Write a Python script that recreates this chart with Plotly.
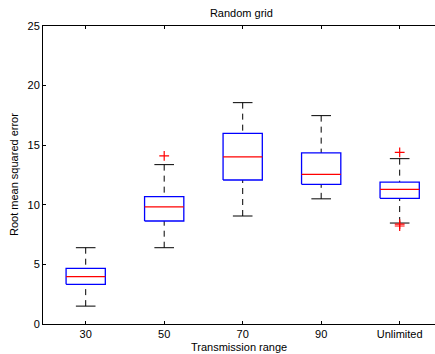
import plotly.graph_objects as go

# ---- data ----
categories = ["30", "50", "70", "90", "Unlimited"]
lower_whisker = [1.50, 6.40, 9.06, 10.50, 8.47]
q1 = [3.33, 8.64, 12.08, 11.72, 10.54]
median = [3.97, 9.82, 14.02, 12.56, 11.30]
q3 = [4.67, 10.68, 16.00, 14.35, 11.91]
upper_whisker = [6.40, 13.37, 18.57, 17.48, 13.87]
outlier_cat = ["50", "Unlimited", "Unlimited", "Unlimited"]
outlier_val = [14.10, 14.40, 8.38, 8.22]

y_ticks = [0, 5, 10, 15, 20, 25]

BOX_W = 0.5
CAP_W = 0.25
FONT = "Liberation Sans, Arial, Helvetica, sans-serif"

pos = {c: i + 1 for i, c in enumerate(categories)}

box_x, box_y = [], []
med_x, med_y = [], []
wh_x, wh_y = [], []
cap_x, cap_y = [], []
for i, c in enumerate(categories):
    p = pos[c]
    a, b = p - BOX_W / 2, p + BOX_W / 2
    box_x += [a, b, b, a, a, None]
    box_y += [q1[i], q1[i], q3[i], q3[i], q1[i], None]
    med_x += [a, b, None]
    med_y += [median[i], median[i], None]
    wh_x += [p, p, None, p, p, None]
    wh_y += [upper_whisker[i], q3[i], None, lower_whisker[i], q1[i], None]
    ca, cb = p - CAP_W / 2, p + CAP_W / 2
    cap_x += [ca, cb, None, ca, cb, None]
    cap_y += [upper_whisker[i], upper_whisker[i], None,
              lower_whisker[i], lower_whisker[i], None]

fig = go.Figure()
fig.add_trace(go.Scatter(x=wh_x, y=wh_y, mode="lines",
                         line=dict(color="black", width=1, dash="6px,5px"),
                         hoverinfo="skip", showlegend=False))
fig.add_trace(go.Scatter(x=cap_x, y=cap_y, mode="lines",
                         line=dict(color="black", width=1),
                         hoverinfo="skip", showlegend=False))
fig.add_trace(go.Scatter(x=box_x, y=box_y, mode="lines",
                         line=dict(color="#0000ff", width=1.3),
                         hoverinfo="skip", showlegend=False))
fig.add_trace(go.Scatter(x=med_x, y=med_y, mode="lines",
                         line=dict(color="#ff0000", width=1.3),
                         hoverinfo="skip", showlegend=False))
fig.add_trace(go.Scatter(x=[pos[c] for c in outlier_cat], y=outlier_val,
                         mode="markers",
                         marker=dict(symbol="cross-thin-open", size=7,
                                     color="#ff0000",
                                     line=dict(color="#ff0000", width=1.2)),
                         hoverinfo="skip", showlegend=False))

fig.update_layout(
    width=435, height=354,
    margin=dict(l=43, r=0, t=26, b=30),
    paper_bgcolor="white", plot_bgcolor="white",
    font=dict(family=FONT, size=11, color="black"),
    title=dict(text="Random grid", x=0.555, xanchor="center",
               y=1 - 13 / 354, yanchor="middle", font=dict(size=11)),
    showlegend=False,
)
fig.update_xaxes(
    range=[0.456, 5.45],
    tickmode="array", tickvals=[pos[c] for c in categories], ticktext=categories,
    ticks="inside", ticklen=3, tickcolor="black",
    showline=True, linecolor="black", linewidth=1, mirror="ticks",
    showgrid=False, zeroline=False,
)
fig.update_yaxes(
    range=[0, 25], tickmode="array", tickvals=y_ticks,
    ticks="inside", ticklen=3, tickcolor="black",
    showline=True, linecolor="black", linewidth=1, mirror=False,
    showgrid=False, zeroline=False,
)
fig.add_annotation(text="Transmission range", xref="paper", yref="paper",
                   x=0.5, y=-(346.5 - 324) / 298, xanchor="center", yanchor="middle",
                   showarrow=False, font=dict(size=11))
fig.add_annotation(text="Root mean squared error", xref="paper", yref="paper",
                   x=(14 - 43) / 392, y=0.5, xanchor="center", yanchor="middle",
                   textangle=-90, showarrow=False, font=dict(size=11))

fig.write_html("out.html")
